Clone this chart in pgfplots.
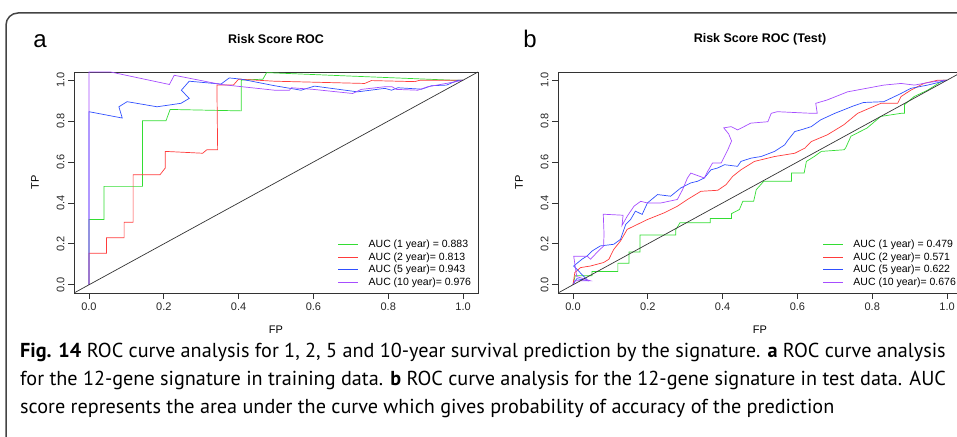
\documentclass[border=0pt]{standalone}
\usepackage{pgfplots}
\pgfplotsset{compat=1.18}
\usepackage{fontspec}
\setmainfont{Liberation Sans}
\newfontfamily\capfont{PT Sans}
\definecolor{rgreen}{HTML}{33DD33}
\definecolor{rred}{HTML}{FF3B3B}
\definecolor{rblue}{HTML}{2F4FFF}
\definecolor{rpurple}{HTML}{A64DFF}
\definecolor{frame}{HTML}{444444}
\newcommand\tickf{\fontsize{11}{13}\selectfont}
\newcommand\legf{\fontsize{10.5}{12}\selectfont}

\pgfplotsset{
  rocstyle/.style={
    scale only axis, width=404pt, height=221pt,
    xmin=-0.04, xmax=1.04, ymin=-0.04, ymax=1.04,
    xtick={0,0.2,0.4,0.6,0.8,1}, ytick={0,0.2,0.4,0.6,0.8,1},
    tick pos=left, tick align=outside, major tick length=6pt,
    axis line style={draw=black!80, line width=0.8pt},
    tick style={black!80, line width=0.8pt},
    /pgf/number format/fixed, /pgf/number format/fixed zerofill,
    /pgf/number format/precision=1, /pgf/number format/assume math mode=true,
    tick label style={font=\tickf, text=black!85},
    yticklabel style={rotate=90, anchor=south},
    xlabel={\tickf FP}, ylabel={\tickf TP},
    xlabel style={at={(axis description cs:0.5,-0.167)}, anchor=center},
    ylabel style={at={(axis description cs:-0.0965,0.5)}, anchor=center},
    title style={at={(axis description cs:0.5,1.122)}, anchor=center, font=\bfseries\fontsize{12.5}{14}\selectfont},
    legend cell align=left,
    legend image code/.code={\draw[#1, line width=1pt] (0pt,0pt) -- (20pt,0pt); \path (30pt,0pt);},
    legend style={draw=none, fill=none, anchor=north west, inner sep=0pt, outer sep=0pt,
      row sep=0.5pt, font=\legf,
      nodes={inner sep=0pt, text height=9pt, text depth=3pt}},
    every axis plot/.append style={line width=0.7pt, mark=none},
  }
}

\begin{document}
\begin{tikzpicture}[x=1pt, y=1pt]
\useasboundingbox (0,0) rectangle (957,436);
\clip (0,0) rectangle (957,436);
\draw[frame, line width=1.5pt, rounded corners=12pt] (6,423) rectangle (980,-20);

\node[anchor=base, font=\fontsize{24}{28}\selectfont] at (40,388) {a};
\node[anchor=base, font=\fontsize{24}{28}\selectfont] at (530,388) {b};

% panel a
\begin{axis}[rocstyle, at={(74pt,143pt)}, anchor=south west,
  title={Risk Score ROC},
  legend style={at={(0.653,0.245)}}]
\addplot[rgreen] coordinates {
 (0,0) (0,0.319) (0.040,0.319) (0.040,0.481) (0.143,0.481) (0.143,0.802)
 (0.206,0.802) (0.217,0.857) (0.407,0.850) (0.407,1.000) (0.465,1.005)
 (0.475,1.037) (0.70,1.02) (0.97,1.0) (1,1)};
\addlegendentry{AUC (1 year) = 0.883}
\addplot[rred] coordinates {
 (0,0) (0,0.154) (0.047,0.154) (0.047,0.230) (0.094,0.230) (0.094,0.306)
 (0.118,0.306) (0.118,0.538) (0.190,0.538) (0.204,0.571) (0.204,0.652)
 (0.304,0.643) (0.315,0.660) (0.344,0.660) (0.342,0.976) (0.386,0.976)
 (0.400,1.005) (0.496,0.995) (0.737,0.984) (0.755,0.998) (0.871,0.993)
 (0.885,1.0) (0.996,1.0) (1,1)};
\addlegendentry{AUC (2 year)= 0.813}
\addplot[rblue] coordinates {
 (0,0) (0,0.846) (0.089,0.815) (0.080,0.870) (0.102,0.895) (0.182,0.870)
 (0.246,0.887) (0.268,0.911) (0.247,0.951) (0.268,0.995) (0.353,0.981)
 (0.375,1.011) (0.407,1.005) (0.496,0.973) (0.567,0.951) (0.603,0.971)
 (0.718,0.943) (0.791,0.960) (0.809,0.951) (0.826,0.963) (0.889,0.956)
 (0.916,0.973) (0.956,0.976) (0.987,1.0) (1,1)};
\addlegendentry{AUC (5 year)= 0.943}
\addplot[rpurple] coordinates {
 (0,0) (0,1.04) (0.058,1.04) (0.215,0.979) (0.228,1.024) (0.353,0.979)
 (0.496,0.951) (0.536,0.951) (0.541,0.963) (0.60,0.955) (0.705,0.935)
 (0.728,0.955) (0.791,0.968) (0.810,0.968) (0.822,0.955) (0.879,0.951)
 (0.906,0.968) (0.979,0.992) (1,1)};
\addlegendentry{AUC (10 year)= 0.976}
\addplot[black!80, forget plot] coordinates {(-0.04,-0.04) (1.04,1.04)};
\end{axis}

% panel b
\begin{axis}[rocstyle, at={(558pt,143pt)}, anchor=south west,
  title={Risk Score ROC (Test)},
  legend style={at={(0.655,0.245)}}]
\addplot[rgreen] coordinates {
 (0,0) (0.006,0.044) (0.051,0.044) (0.051,0.065) (0.120,0.065) (0.120,0.105)
 (0.150,0.105) (0.150,0.160) (0.179,0.160) (0.179,0.243) (0.275,0.243)
 (0.275,0.270) (0.286,0.303) (0.367,0.303) (0.367,0.324) (0.424,0.324)
 (0.424,0.348) (0.445,0.368) (0.454,0.408) (0.483,0.408) (0.490,0.465)
 (0.510,0.506) (0.584,0.506) (0.584,0.546) (0.618,0.546) (0.624,0.603)
 (0.645,0.627) (0.664,0.652) (0.725,0.660) (0.729,0.669) (0.743,0.726)
 (0.786,0.766) (0.823,0.823) (0.877,0.838) (0.886,0.838) (0.886,0.880)
 (0.912,0.920) (0.948,0.951) (0.99,1.0) (1,1)};
\addlegendentry{AUC (1 year) = 0.479}
\addplot[rred] coordinates {
 (0,0) (0.005,0.06) (0.02,0.084) (0.047,0.092) (0.082,0.109) (0.096,0.125)
 (0.109,0.173) (0.127,0.214) (0.145,0.271) (0.163,0.287) (0.199,0.319)
 (0.244,0.352) (0.279,0.384) (0.306,0.417) (0.342,0.457) (0.387,0.462)
 (0.409,0.489) (0.427,0.530) (0.449,0.562) (0.485,0.603) (0.539,0.627)
 (0.593,0.643) (0.620,0.668) (0.637,0.700) (0.680,0.733) (0.724,0.782)
 (0.761,0.838) (0.823,0.887) (0.868,0.887) (0.877,0.920) (0.903,0.951)
 (0.938,0.984) (0.975,1.0) (1,1)};
\addlegendentry{AUC (2 year)= 0.571}
\addplot[rblue] coordinates {
 (0,0) (0.01,0.03) (0.04,0.02) (0.002,0.092) (0.024,0.125) (0.038,0.141)
 (0.051,0.165) (0.073,0.19) (0.109,0.198) (0.127,0.222) (0.141,0.295)
 (0.154,0.319) (0.167,0.36) (0.185,0.344) (0.199,0.40) (0.226,0.441)
 (0.261,0.433) (0.288,0.473) (0.315,0.498) (0.333,0.506) (0.351,0.522)
 (0.369,0.562) (0.387,0.571) (0.405,0.587) (0.440,0.579) (0.449,0.603)
 (0.476,0.619) (0.503,0.627) (0.539,0.652) (0.566,0.684) (0.575,0.708)
 (0.593,0.749) (0.609,0.757) (0.637,0.773) (0.662,0.806) (0.700,0.838)
 (0.751,0.875) (0.777,0.891) (0.831,0.895) (0.877,0.935) (0.903,0.960)
 (0.948,0.976) (0.984,0.992) (1,1)};
\addlegendentry{AUC (5 year)= 0.622}
\addplot[rpurple] coordinates {
 (0,0) (0.005,0.02) (0.046,0.02) (0.01,0.04) (0.002,0.14) (0.038,0.14)
 (0.047,0.125) (0.065,0.16) (0.082,0.19) (0.083,0.25) (0.081,0.345)
 (0.134,0.34) (0.131,0.29) (0.145,0.335) (0.163,0.384) (0.181,0.408)
 (0.199,0.40) (0.235,0.40) (0.279,0.417) (0.293,0.465) (0.306,0.522)
 (0.315,0.546) (0.351,0.522) (0.360,0.554) (0.373,0.595) (0.396,0.595)
 (0.414,0.660) (0.424,0.703) (0.416,0.738) (0.403,0.767) (0.423,0.773)
 (0.440,0.757) (0.449,0.765) (0.475,0.790) (0.521,0.797) (0.530,0.838)
 (0.546,0.846) (0.627,0.839) (0.653,0.838) (0.649,0.887) (0.679,0.903)
 (0.734,0.943) (0.831,0.976) (0.877,0.984) (0.913,0.976) (0.948,0.988)
 (0.992,1.0) (1,1)};
\addlegendentry{AUC (10 year)= 0.676}
\addplot[black!80, forget plot] coordinates {(-0.04,-0.04) (1.04,1.04)};
\end{axis}

\begin{scope}[font=\capfont\fontsize{20.2}{24}\selectfont]
\node[anchor=base west, inner sep=0pt] at (20,78) {\textbf{Fig. 14} ROC curve analysis for 1, 2, 5 and 10-year survival prediction by the signature. \textbf{a} ROC curve analysis};
\node[anchor=base west, inner sep=0pt] at (20,50) {for the 12-gene signature in training data. \textbf{b} ROC curve analysis for the 12-gene signature in test data. AUC};
\node[anchor=base west, inner sep=0pt] at (20,23) {score represents the area under the curve which gives probability of accuracy of the prediction};
\end{scope}
\end{tikzpicture}
\end{document}
